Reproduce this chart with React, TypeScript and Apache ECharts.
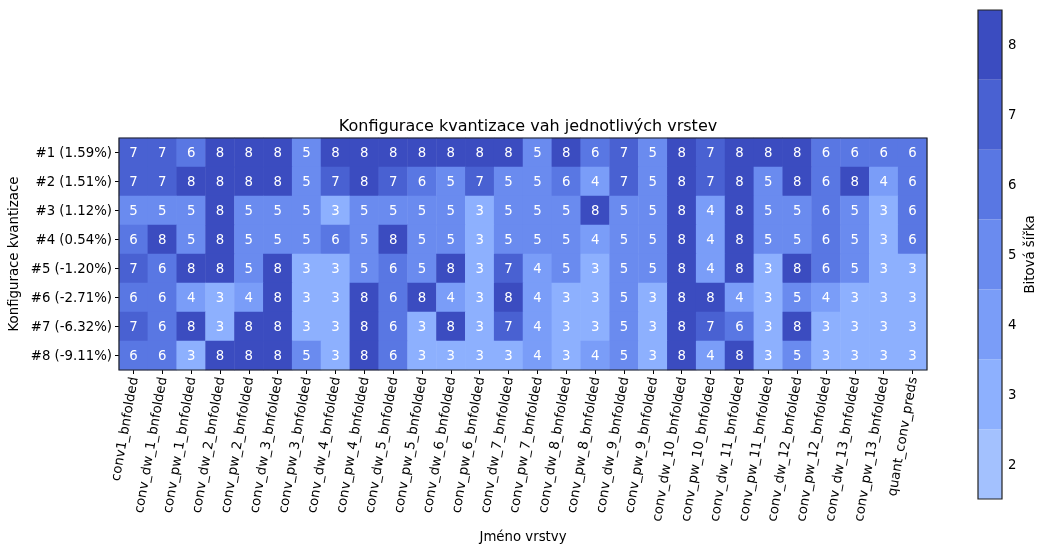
import React, { useEffect, useRef } from "react";
import * as echarts from "echarts";

const layers = [
  "conv1_bnfolded", "conv_dw_1_bnfolded", "conv_pw_1_bnfolded", "conv_dw_2_bnfolded",
  "conv_pw_2_bnfolded", "conv_dw_3_bnfolded", "conv_pw_3_bnfolded", "conv_dw_4_bnfolded",
  "conv_pw_4_bnfolded", "conv_dw_5_bnfolded", "conv_pw_5_bnfolded", "conv_dw_6_bnfolded",
  "conv_pw_6_bnfolded", "conv_dw_7_bnfolded", "conv_pw_7_bnfolded", "conv_dw_8_bnfolded",
  "conv_pw_8_bnfolded", "conv_dw_9_bnfolded", "conv_pw_9_bnfolded", "conv_dw_10_bnfolded",
  "conv_pw_10_bnfolded", "conv_dw_11_bnfolded", "conv_pw_11_bnfolded", "conv_dw_12_bnfolded",
  "conv_pw_12_bnfolded", "conv_dw_13_bnfolded", "conv_pw_13_bnfolded", "quant_conv_preds",
];

const configs = [
  "#1 (1.59%)", "#2 (1.51%)", "#3 (1.12%)", "#4 (0.54%)",
  "#5 (-1.20%)", "#6 (-2.71%)", "#7 (-6.32%)", "#8 (-9.11%)",
];

const bits1 = [7, 7, 6, 8, 8, 8, 5, 8, 8, 8, 8, 8, 8, 8, 5, 8, 6, 7, 5, 8, 7, 8, 8, 8, 6, 6, 6, 6];
const bits2 = [7, 7, 8, 8, 8, 8, 5, 7, 8, 7, 6, 5, 7, 5, 5, 6, 4, 7, 5, 8, 7, 8, 5, 8, 6, 8, 4, 6];
const bits3 = [5, 5, 5, 8, 5, 5, 5, 3, 5, 5, 5, 5, 3, 5, 5, 5, 8, 5, 5, 8, 4, 8, 5, 5, 6, 5, 3, 6];
const bits4 = [6, 8, 5, 8, 5, 5, 5, 6, 5, 8, 5, 5, 3, 5, 5, 5, 4, 5, 5, 8, 4, 8, 5, 5, 6, 5, 3, 6];
const bits5 = [7, 6, 8, 8, 5, 8, 3, 3, 5, 6, 5, 8, 3, 7, 4, 5, 3, 5, 5, 8, 4, 8, 3, 8, 6, 5, 3, 3];
const bits6 = [6, 6, 4, 3, 4, 8, 3, 3, 8, 6, 8, 4, 3, 8, 4, 3, 3, 5, 3, 8, 8, 4, 3, 5, 4, 3, 3, 3];
const bits7 = [7, 6, 8, 3, 8, 8, 3, 3, 8, 6, 3, 8, 3, 7, 4, 3, 3, 5, 3, 8, 7, 6, 3, 8, 3, 3, 3, 3];
const bits8 = [6, 6, 3, 8, 8, 8, 5, 3, 8, 6, 3, 3, 3, 3, 4, 3, 4, 5, 3, 8, 4, 8, 3, 5, 3, 3, 3, 3];

const rows = [bits1, bits2, bits3, bits4, bits5, bits6, bits7, bits8];

const levels = [2, 3, 4, 5, 6, 7, 8];
const levelColors = ["#a3c1fe", "#8db0fe", "#7a9df8", "#6a8bef", "#5977e3", "#4961d2", "#3b4cc0"];

const FONT = "DejaVu Sans";
const FS = 13.3;

export default function App() {
  const ref = useRef<HTMLDivElement>(null);
  useEffect(() => {
    if (!ref.current) return;
    const chart = echarts.init(ref.current, undefined, { renderer: "svg" });
    const data: number[][] = [];
    rows.forEach((r, yi) => r.forEach((v, xi) => data.push([xi, yi, v])));
    chart.setOption({
      animation: false,
      textStyle: { fontFamily: FONT },
      title: {
        text: "Konfigurace kvantizace vah jednotlivých vrstev",
        left: 523,
        top: 112,
        textAlign: "center",
        textStyle: { fontFamily: FONT, fontSize: 16, fontWeight: "normal", color: "#000" },
      },
      visualMap: {
        show: false,
        type: "piecewise",
        seriesIndex: 0,
        dimension: 2,
        pieces: levels.map((l, i) => ({ value: l, color: levelColors[i] })),
      },
      grid: [
        { left: 119, top: 138, width: 808, height: 232, show: true, z: 10, outerBoundsMode: "none", containLabel: false, borderColor: "#222", borderWidth: 1.2, backgroundColor: "transparent" },
        { left: 978, top: 10, width: 24, height: 489, show: true, z: 10, outerBoundsMode: "none", containLabel: false, borderColor: "#222", borderWidth: 1.2, backgroundColor: "transparent" },
      ],
      xAxis: [
        {
          type: "category",
          gridIndex: 0,
          data: layers,
          name: "Jméno vrstvy",
          nameLocation: "middle",
          nameGap: 160,
          nameTextStyle: { fontFamily: FONT, fontSize: FS, color: "#000" },
          axisLine: { show: false },
          axisTick: { show: true, alignWithLabel: true, length: 4, lineStyle: { color: "#000" } },
          axisLabel: { rotate: 80, fontFamily: FONT, fontSize: FS, color: "#000", margin: 7, interval: 0 },
          splitLine: { show: false },
        },
        { type: "value", gridIndex: 1, min: 0, max: 1, show: false },
      ],
      yAxis: [
        {
          type: "category",
          gridIndex: 0,
          data: configs,
          inverse: true,
          name: "Konfigurace kvantizace",
          nameLocation: "middle",
          nameGap: 91,
          nameRotate: 90,
          nameTextStyle: { fontFamily: FONT, fontSize: FS, color: "#000" },
          axisLine: { show: false },
          axisTick: { show: true, alignWithLabel: true, length: 4, lineStyle: { color: "#000" } },
          axisLabel: { fontFamily: FONT, fontSize: FS, color: "#000", margin: 7 },
          splitLine: { show: false },
        },
        {
          type: "category",
          gridIndex: 1,
          position: "right",
          data: levels.map(String),
          name: "Bitová šířka",
          nameLocation: "middle",
          nameGap: 21,
          nameRotate: 90,
          nameTextStyle: { fontFamily: FONT, fontSize: FS, color: "#000" },
          axisLine: { show: false },
          axisTick: { show: true, alignWithLabel: true, length: 4, lineStyle: { color: "#000" } },
          axisLabel: { fontFamily: FONT, fontSize: FS, color: "#000", margin: 6 },
          splitLine: { show: false },
        },
      ],
      series: [
        {
          type: "heatmap",
          xAxisIndex: 0,
          yAxisIndex: 0,
          data,
          label: {
            show: true,
            color: "#fff",
            fontFamily: FONT,
            fontSize: FS,
            formatter: (p: any) => String(p.value[2]),
          },
          emphasis: { disabled: true },
        },
        {
          type: "bar",
          xAxisIndex: 1,
          yAxisIndex: 1,
          barCategoryGap: "0%",
          data: levels.map((_, i) => ({ value: 1, itemStyle: { color: levelColors[i] } })),
          silent: true,
        },
      ],
    });
    return () => chart.dispose();
  }, []);
  return <div ref={ref} style={{ position: "fixed", left: 0, top: 0, width: 1040, height: 550 }} />;
}
